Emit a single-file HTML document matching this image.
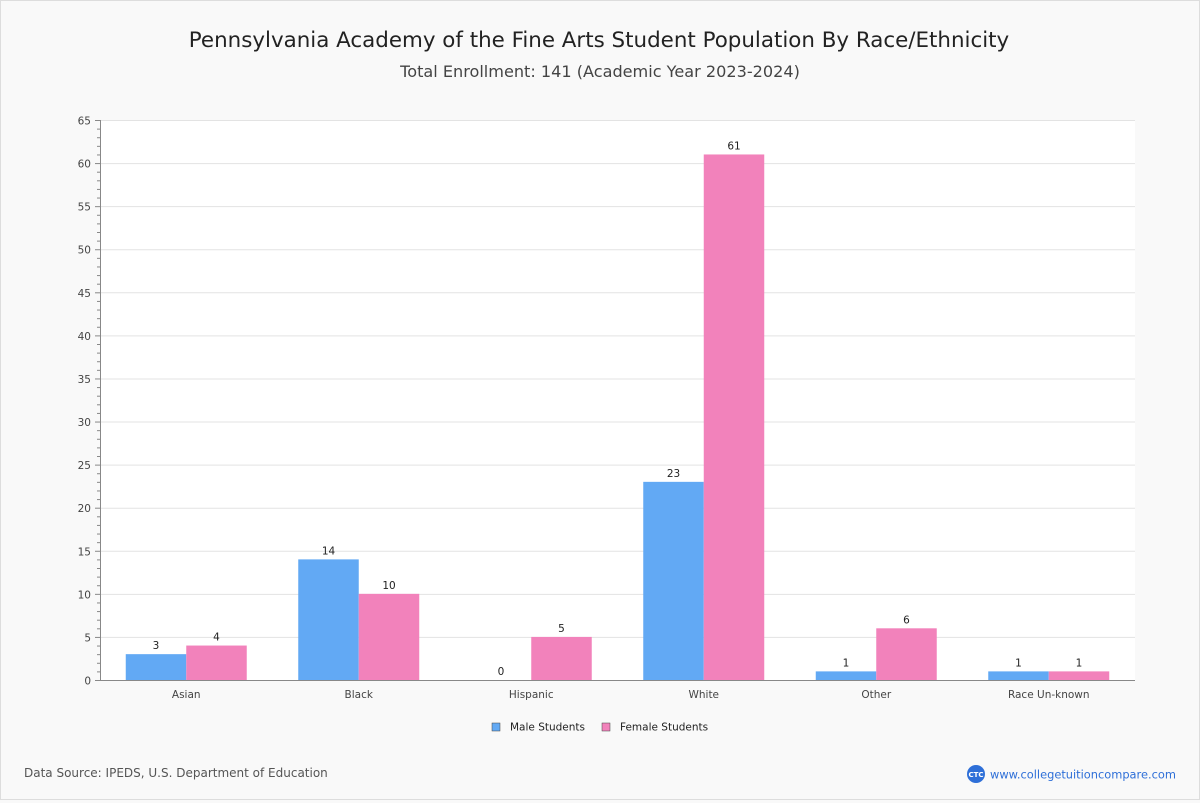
<!DOCTYPE html>
<html><head><meta charset="utf-8"><style>
body{margin:0;background:#f9f9f9;font-family:"DejaVu Sans","Liberation Sans",sans-serif;}
#wrap{position:relative;width:1198px;height:798px;border:1px solid #ddd;background:#f9f9f9;}
</style></head><body>
<div id="wrap">
<svg id="chart" width="1198" height="798">
<text x="598" y="46" text-anchor="middle" font-size="21.4" fill="#222">Pennsylvania Academy of the Fine Arts Student Population By Race/Ethnicity</text>
<text x="599" y="76" text-anchor="middle" font-size="16.1" fill="#444">Total Enrollment: 141 (Academic Year 2023-2024)</text>
<rect x="99" y="119" width="1035" height="560" fill="#fff"/>
<g id="grid"></g><g id="bars"></g><g id="axes"></g>
<g>
<rect x="491" y="722" width="8" height="8" fill="#62a9f4" stroke="#444" stroke-width="0.5"/>
<text x="509" y="729.5" font-size="10.5" fill="#222">Male Students</text>
<rect x="601" y="722" width="8" height="8" fill="#f282bb" stroke="#444" stroke-width="0.5"/>
<text x="619" y="729.5" font-size="10.5" fill="#222">Female Students</text>
</g>
<text x="23" y="776" font-size="12" fill="#555">Data Source: IPEDS, U.S. Department of Education</text>
<g>
<circle cx="975" cy="773" r="9" fill="#2e6fd8"/>
<text x="975" y="776" text-anchor="middle" font-size="7" fill="#fff" font-weight="bold">CTC</text>
<text x="989" y="777.5" font-size="11.4" fill="#2e6fd8">www.collegetuitioncompare.com</text>
</g>
</svg></div>
<script>
const categories=["Asian","Black","Hispanic","White","Other","Race Un-known"];
const maleValues=[3,14,0,23,1,1];
const femaleValues=[4,10,5,61,6,1];
const yTicks=[0,5,10,15,20,25,30,35,40,45,50,55,60,65];
const NS="http://www.w3.org/2000/svg";
const X0=99,X1=1134,Y0=679,Y1=119,YMAX=65;
const y=v=>Y0-(v/YMAX)*(Y0-Y1);
const band=(X1-X0)/categories.length;
const xc=i=>X0+band*(i+0.5);
function mk(tag,a,p){const e=document.createElementNS(NS,tag);for(const k in a)e.setAttribute(k,a[k]);p.appendChild(e);return e;}
const grid=document.getElementById('grid'),bars=document.getElementById('bars'),axes=document.getElementById('axes');
for(let v=0;v<=YMAX;v++){const yy=y(v)+0.5;
 const major=v%5===0;
 const t=mk('line',{x1:major?94:96,x2:X0,y1:yy,y2:yy,stroke:'#888'},axes);
 
 
}
yTicks.forEach(v=>{const yy=y(v)+0.5;
 if(v>0){const g=mk('line',{x1:X0,x2:X1,y1:yy,y2:yy,stroke:'#e3e3e3'},grid);
 
 }
 const t=mk('text',{x:90,y:yy+4,'text-anchor':'end','font-size':10.5,fill:'#444'},axes);t.textContent=v;
 
 
});
const ax=mk('line',{x1:X0+0.5,x2:X0+0.5,y1:Y1,y2:Y0,stroke:'#888'},axes);


const bx=mk('line',{x1:X0,x2:X1,y1:Y0+0.5,y2:Y0+0.5,stroke:'#888'},axes);


const bw=60.5;
categories.forEach((c,i)=>{
 const cx=xc(i);
 [[maleValues[i],'#62a9f4',cx-bw,'male'],[femaleValues[i],'#f282bb',cx,'female']].forEach(([v,col,x,s])=>{
  const r=mk('rect',{x:x,y:y(v),width:bw,height:Y0-y(v),fill:col},bars);
  
  
  const t=mk('text',{x:x+bw/2,y:y(v)-5,'text-anchor':'middle','font-size':10.5,fill:'#222'},bars);t.textContent=v;
  
  
 });
 const l=mk('text',{x:cx,y:697,'text-anchor':'middle','font-size':10.5,fill:'#444'},axes);l.textContent=c;
 
 
});
</script>
</body></html>
